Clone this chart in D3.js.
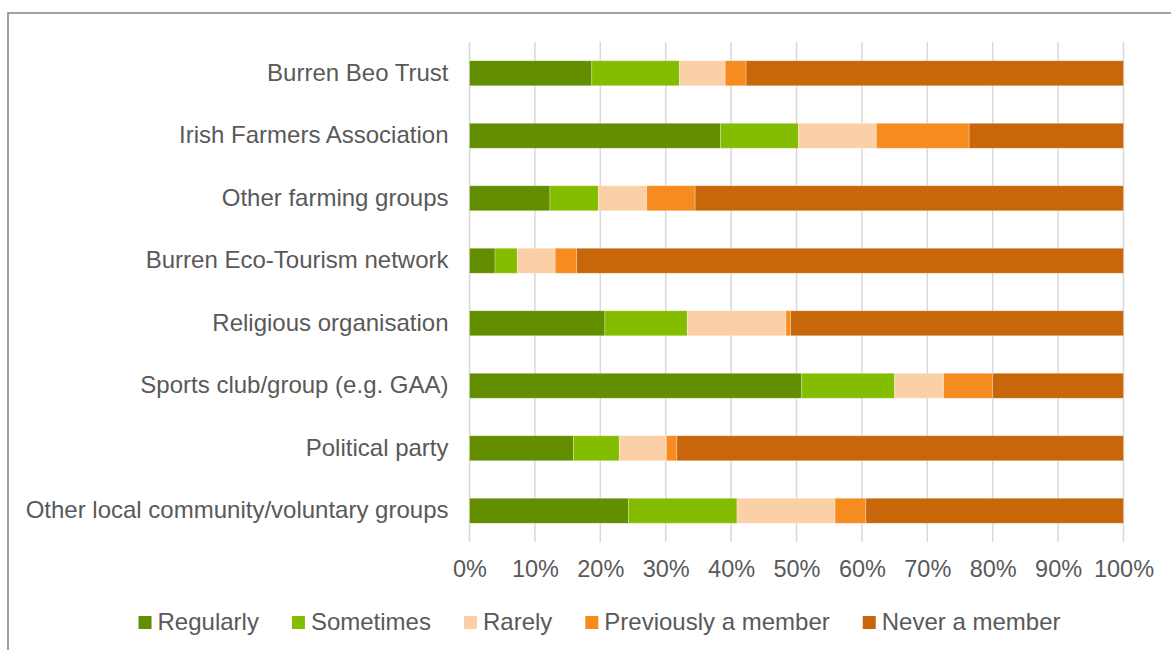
<!DOCTYPE html>
<html>
<head>
<meta charset="utf-8">
<script src="https://cdn.jsdelivr.net/npm/d3@7"></script>
<style>
  body { margin: 0; background: #fff; }
  text { font-family: "Liberation Sans", Arial, sans-serif; fill: #595959; }
</style>
</head>
<body>
<div id="chart"></div>
<script>
// categories, top to bottom
var categories = [
  "Burren Beo Trust",
  "Irish Farmers Association",
  "Other farming groups",
  "Burren Eco-Tourism network",
  "Religious organisation",
  "Sports club/group (e.g. GAA)",
  "Political party",
  "Other local community/voluntary groups"
];
var seriesNames = ["Regularly", "Sometimes", "Rarely", "Previously a member", "Never a member"];
var seriesColors = ["#638e00", "#84bd00", "#fcd0a6", "#f68b1f", "#c8660a"];

// percentages, one array per series, in category order
var regularly  = [18.7, 38.4, 12.3, 3.9, 20.7, 50.8, 15.9, 24.3];
var sometimes  = [13.4, 11.9,  7.4, 3.4, 12.6, 14.2,  7.0, 16.6];
var rarely     = [ 7.0, 11.9,  7.4, 5.8, 15.1,  7.5,  7.2, 15.0];
var previously = [ 3.2, 14.2,  7.4, 3.3,  0.7,  7.5,  1.6,  4.7];
var never      = [57.7, 23.6, 65.5, 83.6, 50.9, 20.0, 68.3, 39.4];
var tickValues = [0, 0.1, 0.2, 0.3, 0.4, 0.5, 0.6, 0.7, 0.8, 0.9, 1];

var W = 1171, H = 650;
var margin = {top: 42, left: 469.5, right: W - 1123.5, bottom: H - 542};
var width = W - margin.left - margin.right,
    height = H - margin.top - margin.bottom;

var svg = d3.select("#chart").append("svg")
  .attr("width", W)
  .attr("height", H);

// outer frame (runs off the right and bottom edges)
svg.append("rect")
  .attr("x", 8).attr("y", 13)
  .attr("width", W + 20).attr("height", H + 20)
  .style("fill", "none")
  .style("stroke", "#898176")
  .style("stroke-width", 1.5);

var g = svg.append("g")
  .attr("transform", "translate(" + margin.left + "," + margin.top + ")");

var x = d3.scaleLinear().domain([0, 1]).range([0, width]);
var y = d3.scaleBand().domain(categories).range([0, height]).paddingInner(0.6).paddingOuter(0.3);

// build table for the stack
var allSeries = [regularly, sometimes, rarely, previously, never];
var table = categories.map(function(c, i) {
  var row = {name: c};
  seriesNames.forEach(function(s, j) { row[s] = allSeries[j][i] / 100; });
  return row;
});
var stacked = d3.stack().keys(seriesNames)(table);

// gridlines
g.selectAll(".grid")
  .data(tickValues)
  .enter().append("line")
  .attr("x1", function(d) { return x(d); })
  .attr("x2", function(d) { return x(d); })
  .attr("y1", 0)
  .attr("y2", height)
  .style("stroke", "#d9d9d9")
  .style("stroke-width", 1.5);

// bars
g.selectAll(".series")
  .data(stacked)
  .enter().append("g")
  .style("fill", function(d, i) { return seriesColors[i]; })
  .selectAll("rect")
  .data(function(d) { return d; })
  .enter().append("rect")
  .attr("x", function(d) { return x(d[0]); })
  .attr("width", function(d) { return x(d[1]) - x(d[0]); })
  .attr("y", function(d) { return y(d.data.name); })
  .attr("height", y.bandwidth())
  .style("stroke", "#ffffff")
  .style("stroke-opacity", 0.35)
  .style("stroke-width", 0.8);

// x axis labels
var xAxis = d3.axisBottom(x).tickValues(tickValues).tickFormat(d3.format(".0%")).tickSize(0).tickPadding(18);
var ax = g.append("g")
  .attr("transform", "translate(0," + height + ")")
  .call(xAxis);
ax.select(".domain").remove();
ax.selectAll("text")
  .style("font-size", "23.5px")
  .style("fill", "#595959")
  .style("font-family", "Liberation Sans, Arial, sans-serif");

// y axis labels
var yAxis = d3.axisLeft(y).tickSize(0).tickPadding(21);
var ay = g.append("g").call(yAxis);
ay.select(".domain").remove();
ay.selectAll("text")
  .style("font-size", "24px")
  .style("fill", "#595959")
  .style("font-family", "Liberation Sans, Arial, sans-serif");

// legend, laid out left to right and centred
var legend = svg.append("g");
var items = legend.selectAll(".item")
  .data(seriesNames)
  .enter().append("g");
items.append("rect")
  .attr("width", 13).attr("height", 13)
  .attr("y", -13)
  .style("fill", function(d, i) { return seriesColors[i]; });
items.append("text")
  .attr("x", 19)
  .attr("y", 0)
  .attr("dy", "0.3em")
  .attr("transform", "translate(0,-6)")
  .style("font-size", "24px")
  .text(function(d) { return d; });

var gap = 33;
var pos = 0;
items.each(function() {
  var w = 19 + this.querySelector("text").getComputedTextLength();
  d3.select(this).attr("transform", "translate(" + pos + ",0)");
  pos += w + gap;
});
pos -= gap;
legend.attr("transform", "translate(" + (599.5 - pos / 2) + ",629)");
</script>
</body>
</html>
